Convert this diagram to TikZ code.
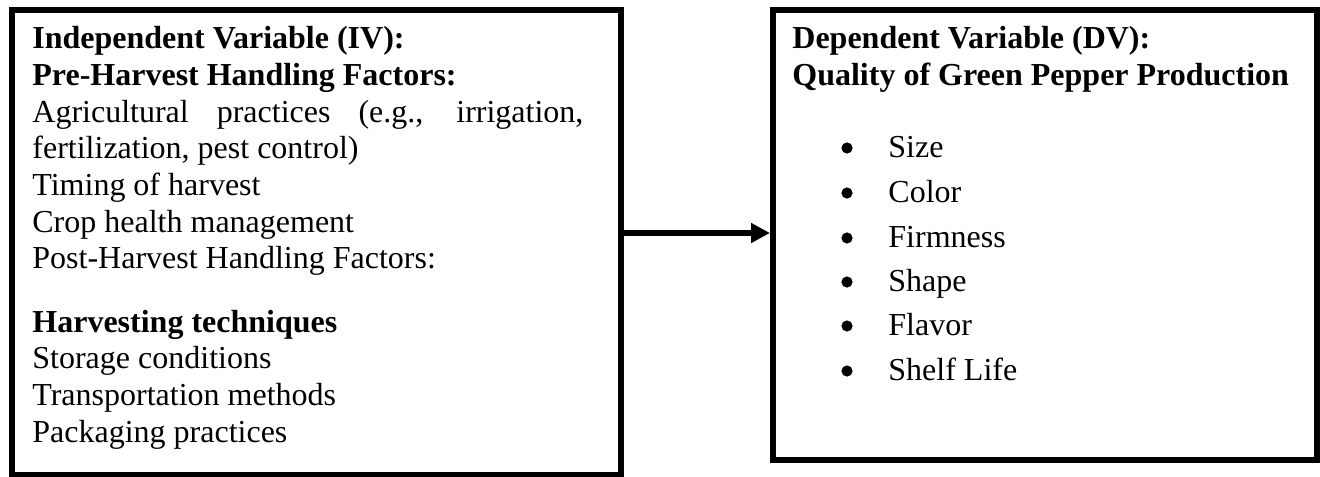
\documentclass[tikz,border=0pt]{standalone}
\usepackage{fontspec}
\setmainfont{Liberation Serif}
\usetikzlibrary{arrows.meta}
\begin{document}
\begin{tikzpicture}[x=0.5pt,y=-0.5pt,
  box/.style={draw, line width=3pt, inner sep=0pt, anchor=north west},
  txt/.style={anchor=base west, inner sep=0pt, font=\fontsize{16}{18.4}\selectfont},
  btxt/.style={txt, font=\fontsize{16}{18.4}\selectfont\bfseries},
  bul/.style={circle, fill=black, inner sep=0pt, minimum size=5.6pt},
  link/.style={line width=3pt, -{Triangle[length=9.5pt,width=9.5pt]}}]
\useasboundingbox (0,0) rectangle (1320,476);
\node[box, minimum width=304.5pt, minimum height=232.5pt] (iv) at (9,7) {};
\node[box, minimum width=272pt, minimum height=225pt] (dv) at (770,7) {};
\draw[link] ([yshift=1pt]iv.east |- dv.west) -- ([yshift=1pt]dv.west);
% left box text
\node[btxt] (l1) at (32,49) {Independent Variable (IV):};
\node[btxt] (l2) at (32,86) {Pre-Harvest Handling Factors:};
\node[txt] (l3) at (32,122) {\makebox[275.5pt][s]{Agricultural practices (e.g., irrigation,}};
\node[txt] (l4) at (32,158) {fertilization, pest control)};
\node[txt] (l5) at (32,195) {Timing of harvest};
\node[txt] (l6) at (32,232) {Crop health management};
\node[txt] (l7) at (32,268) {Post-Harvest Handling Factors:};
\node[btxt] (l8) at (32,332) {Harvesting techniques};
\node[txt] (l9) at (32,368) {Storage conditions};
\node[txt] (l10) at (32,405) {Transportation methods};
\node[txt] (l11) at (32,442) {Packaging practices};
% right box text
\node[btxt] (r1) at (792,49) {Dependent Variable (DV):};
\node[btxt] (r2) at (792,86) {Quality of Green Pepper Production};
\foreach \t/\y [count=\i] in {Size/157, Color/202, Firmness/247, Shape/291, Flavor/335, Shelf Life/380}{
  \node[bul] (b\i) at (847,\y-9) {};
  \node[txt] (i\i) at (888,\y) {\t};
}
\end{tikzpicture}
\end{document}
